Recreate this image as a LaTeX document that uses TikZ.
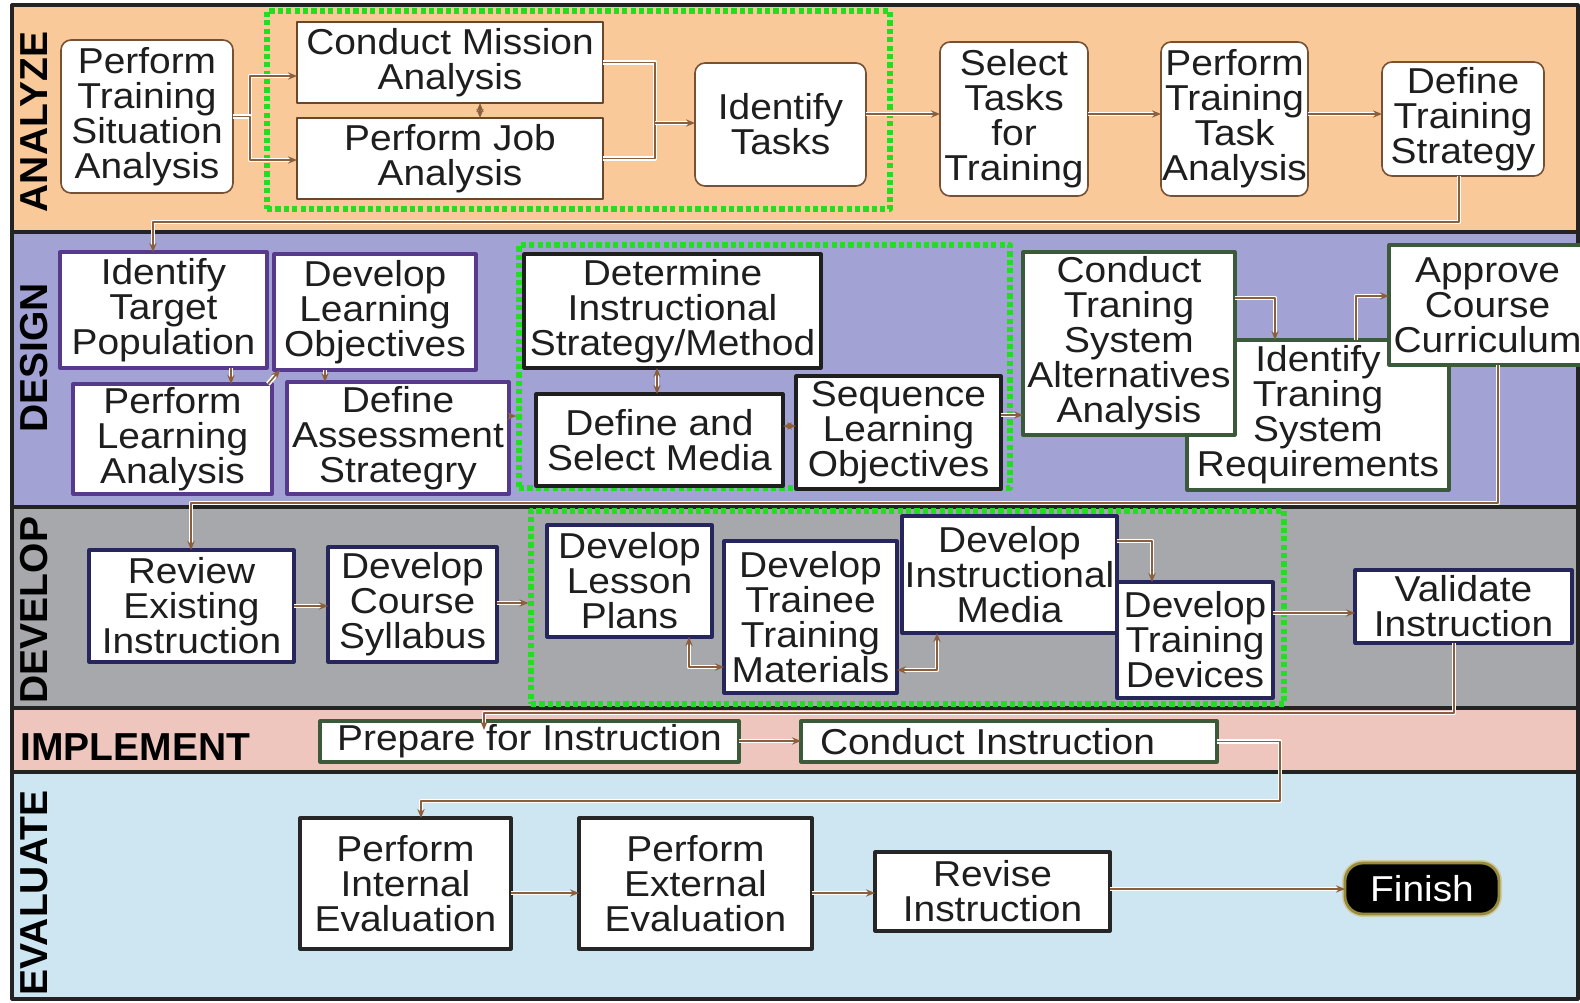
\documentclass[tikz,border=0pt]{standalone}
\usepackage{fontspec}
\setmainfont{Liberation Sans}[FakeStretch=1.08]
\newfontfamily\lanefont{Liberation Sans}
\usetikzlibrary{arrows.meta}
\definecolor{anaC}{RGB}{250,201,153}
\definecolor{desC}{RGB}{162,162,212}
\definecolor{devC}{RGB}{166,168,171}
\definecolor{impC}{RGB}{238,198,190}
\definecolor{evaC}{RGB}{206,229,242}
\definecolor{brownC}{RGB}{140,95,60}
\definecolor{purpC}{RGB}{88,58,140}
\definecolor{dgreenC}{RGB}{58,90,58}
\definecolor{navyC}{RGB}{38,38,92}
\definecolor{dotG}{RGB}{34,221,34}
\definecolor{sepC}{RGB}{35,35,35}
\definecolor{oliveC}{RGB}{150,140,60}
\definecolor{txtC}{RGB}{30,30,30}
\tikzset{
  base/.style={inner sep=0pt, outer sep=0pt, fill=white, align=center, text=txtC,
    font=\fontsize{18}{17.5}\selectfont},
  abox/.style={base, draw=brownC!85!black, line width=0.8pt, rounded corners=5pt},
  asq/.style={base, draw=brownC!75!black, line width=1pt},
  pbox/.style={base, draw=purpC, line width=1.6pt},
  kbox/.style={base, draw=black!88, line width=1.6pt},
  gbox/.style={base, draw=dgreenC, line width=1.6pt},
  nbox/.style={base, draw=navyC, line width=1.6pt},
  ebox/.style={base, draw=black!85, line width=1.6pt},
  finbox/.style={base, fill=black, text=white, draw=oliveC, line width=1.4pt,
    rounded corners=9pt, preaction={draw=oliveC!45!white, line width=3pt}},
  dotbox/.style={draw=dotG, line width=2.6pt, dash pattern=on 2.6pt off 1.6pt, inner sep=0pt, fill=none},
  lane/.style={font=\lanefont\bfseries\fontsize{19.5}{20}\selectfont, inner sep=0pt, text=black},
  sep/.style={draw=sepC, line width=1.6pt},
  wire/.style={draw=brownC, line width=0.8pt, preaction={draw=white, line width=2.4pt, -}},
  conn/.style={draw=brownC, line width=0.8pt, -{Stealth[length=4.5pt,width=3.6pt]},
    preaction={draw=white, line width=2.4pt, -, shorten >=3.5pt}},
  conn2/.style={draw=brownC, line width=0.8pt, {Stealth[length=4.5pt,width=3.6pt]}-{Stealth[length=4.5pt,width=3.6pt]},
    preaction={draw=white, line width=2.4pt, -, shorten >=3.5pt, shorten <=3.5pt}}
}
% box from corner (x1,y1) to (x2,y2) in pixel units
\newcommand\bx[7]{%
  \pgfmathsetmacro\bw{(#5-#3)*0.5}\pgfmathsetmacro\bh{(#6-#4)*0.5}%
  \pgfmathsetmacro\bcx{(#3+#5)/2}\pgfmathsetmacro\bcy{(#4+#6)/2}%
  \node[#1, minimum width=\bw pt, minimum height=\bh pt] (#2) at (\bcx,\bcy) {#7};}
\begin{document}
\begin{tikzpicture}[x=0.5pt,y=-0.5pt,line join=round]
\path[use as bounding box] (0,0) rectangle (1580,1002);
\clip (0,0) rectangle (1580,1002);
\fill[white] (0,0) rectangle (1580,1002);
% lanes
\fill[anaC] (12,5) rectangle (1580,232);
\fill[desC] (12,232) rectangle (1580,507);
\fill[devC] (12,507) rectangle (1580,708);
\fill[impC] (12,708) rectangle (1580,772);
\fill[evaC] (12,772) rectangle (1580,999);
\draw[sep] (12,232) -- (1580,232);
\draw[sep] (12,507) -- (1580,507);
\draw[sep] (12,708) -- (1580,708);
\draw[sep] (12,772) -- (1580,772);
\draw[sep] (12,5) rectangle (1578,999);
% lane labels
\node[lane, rotate=90] (lA) at (34,122) {ANALYZE};
\node[lane, rotate=90] (lD) at (34,358) {DESIGN};
\node[lane, rotate=90] (lV) at (34,610) {DEVELOP};
\node[lane, anchor=west] (lI) at (20,747) {IMPLEMENT};
\node[lane, rotate=90] (lE) at (34,893) {EVALUATE};
% dotted groups
\bx{dotbox}{gA}{267}{11}{890}{209}{}
\bx{dotbox}{gD}{519}{245}{1010}{488}{}
\bx{dotbox}{gV}{531}{511}{1284}{704}{}
% ANALYZE
\bx{abox}{ptsa}{61}{40}{233}{193}{Perform\\Training\\Situation\\Analysis}
\bx{asq}{cma}{297}{22}{603}{103}{Conduct Mission\\Analysis}
\bx{asq}{pja}{297}{118}{603}{199}{Perform Job\\Analysis}
\bx{abox}{it}{695}{63}{866}{186}{Identify\\Tasks}
\bx{abox}{stt}{940}{42}{1088}{196}{Select\\Tasks\\for\\Training}
\bx{abox}{ptta}{1161}{42}{1308}{196}{Perform\\Training\\Task\\Analysis}
\bx{abox}{dts}{1382}{62}{1544}{176}{Define\\Training\\Strategy}
% DESIGN
\bx{pbox}{itp}{60}{252}{267}{368}{Identify\\Target\\Population}
\bx{pbox}{dlo}{274}{254}{476}{370}{Develop\\Learning\\Objectives}
\bx{pbox}{pla}{73}{384}{272}{494}{Perform\\Learning\\Analysis}
\bx{pbox}{das}{287}{382}{509}{494}{Define\\Assessment\\Strategry}
\bx{kbox}{dism}{524}{254}{821}{368}{Determine\\Instructional\\Strategy/Method}
\bx{kbox}{dsm}{536}{394}{783}{486}{Define and\\Select Media}
\bx{kbox}{slo}{796}{376}{1001}{489}{Sequence\\Learning\\Objectives}
\bx{gbox}{itsr}{1187}{340}{1449}{490}{Identify\\Traning\\System\\Requirements}
\bx{gbox}{ctsaa}{1023}{252}{1235}{435}{Conduct\\Traning\\System\\Alternatives\\Analysis}
\bx{gbox}{acc}{1389}{245}{1586}{365}{Approve\\Course\\Curriculum}
% DEVELOP
\bx{nbox}{rei}{89}{550}{294}{662}{Review\\Existing\\Instruction}
\bx{nbox}{dcs}{328}{547}{497}{662}{Develop\\Course\\Syllabus}
\bx{nbox}{dlp}{547}{525}{712}{637}{Develop\\Lesson\\Plans}
\bx{nbox}{dttm}{724}{541}{897}{693}{Develop\\Trainee\\Training\\Materials}
\bx{nbox}{dim}{902}{516}{1117}{633}{Develop\\Instructional\\Media}
\bx{nbox}{dtd}{1117}{582}{1273}{698}{Develop\\Training\\Devices}
\bx{nbox}{vi}{1355}{570}{1572}{643}{Validate\\Instruction}
% IMPLEMENT
\bx{gbox}{pfi}{320}{721}{739}{762}{Prepare for Instruction}
\bx{gbox}{ci}{801}{721}{1217}{762}{\makebox[206pt][l]{\hspace{8.5pt}Conduct Instruction}}
% EVALUATE
\bx{ebox}{pie}{300}{818}{511}{949}{Perform\\Internal\\Evaluation}
\bx{ebox}{pee}{579}{818}{812}{949}{Perform\\External\\Evaluation}
\bx{ebox}{ri}{875}{852}{1110}{931}{Revise\\Instruction}
\bx{finbox}{fin}{1345}{863}{1499}{914}{Finish}
% connectors ANALYZE
\draw[conn] (ptsa.east) -- ++(17,0) |- (cma.west |- 0,76);
\draw[conn] (ptsa.east) -- ++(17,0) |- (pja.west |- 0,160);
\draw[conn2] (cma.south -| 480,0) -- (pja.north -| 480,0);
\coordinate (j1) at (655,123);
\draw[wire] (cma.east) -| (j1) |- (pja.east);
\draw[conn] (j1) -- (it.west |- j1);
\draw[conn] (it.east |- 0,114) -- (stt.west |- 0,114);
\draw[conn] (stt.east |- 0,114) -- (ptta.west |- 0,114);
\draw[conn] (ptta.east |- 0,114) -- (dts.west |- 0,114);
\draw[conn] (dts.south -| 1459,0) -- (1459,222) -- (153,222) -- (itp.north -| 153,0);
% DESIGN
\draw[conn] (itp.south -| 231,0) -- (pla.north -| 231,0);
\draw[conn] ([xshift=-2pt]pla.north east) -- ([xshift=3pt]dlo.south west);
\draw[conn] (dlo.south -| 325,0) -- (das.north -| 325,0);
\draw[conn] (das.east |- 0,416) -- (gD.west |- 0,416);
\draw[conn2] (dism.south -| 657,0) -- (dsm.north -| 657,0);
\draw[conn2] (dsm.east |- 0,426) -- (slo.west |- 0,426);
\draw[conn] (slo.east |- 0,415) -- (ctsaa.west |- 0,415);
\draw[conn] (ctsaa.east |- 0,298) -| (itsr.north -| 1275,0);
\draw[conn] (itsr.north -| 1356,0) |- (acc.west |- 0,296);
\draw[conn] (acc.south -| 1498,0) -- (1498,503) -- (191,503) -- (rei.north -| 191,0);
% DEVELOP
\draw[conn] (rei.east) -- (dcs.west |- rei.east);
\draw[conn] (dcs.east |- 0,603) -- (gV.west |- 0,603);
\draw[conn2] (dlp.south -| 689,0) |- (dttm.west |- 0,667);
\draw[conn2] (dim.south -| 937,0) |- (dttm.east |- 0,670);
\draw[conn] (dim.east |- 0,541) -| (dtd.north -| 1152,0);
\draw[conn] (dtd.east |- 0,613) -- (vi.west |- 0,613);
\coordinate (pfiin) at (484,730);
\draw[conn] (vi.south -| 1454,0) -- (1454,713) -- (484,713) -- (pfiin);
% IMPLEMENT
\draw[conn] (pfi.east |- 0,741) -- (ci.west |- 0,741);
\draw[conn] (ci.east) -- (1280,741.5) -- (1280,801) -- (421,801) -- (pie.north -| 421,0);
% EVALUATE
\draw[conn] (pie.east |- 0,893) -- (pee.west |- 0,893);
\draw[conn] (pee.east |- 0,893) -- (ri.west |- 0,893);
\draw[conn] (ri.east |- 0,889) -- (fin.west |- 0,889);
\end{tikzpicture}
\end{document}
